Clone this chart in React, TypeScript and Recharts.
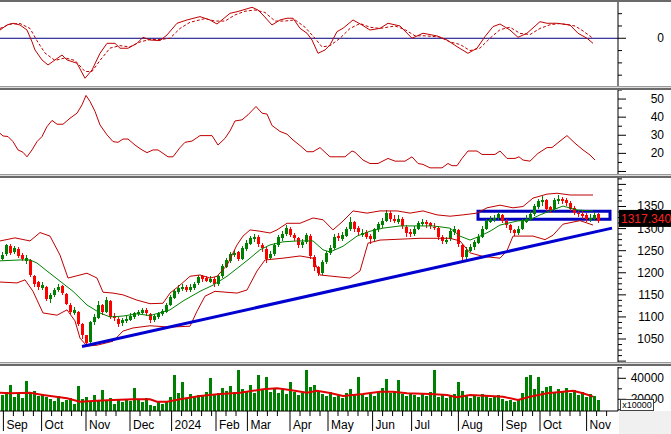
import React from 'react';
import { ComposedChart, Line, Bar, XAxis, YAxis, ReferenceLine, ReferenceArea } from 'recharts';

// one candle every two trading days: [open, high, low, close]
const candles: [number, number, number, number][] = [
  [1232, 1246, 1228, 1240], [1242, 1266, 1238, 1262], [1260, 1264, 1240, 1245], [1246, 1260, 1242, 1255],
  [1254, 1258, 1234, 1238], [1240, 1244, 1226, 1232], [1226, 1240, 1220, 1234], [1230, 1232, 1190, 1195],
  [1192, 1196, 1168, 1175], [1178, 1182, 1160, 1168], [1166, 1180, 1162, 1172], [1168, 1170, 1135, 1140],
  [1140, 1155, 1132, 1150], [1150, 1166, 1145, 1162], [1160, 1174, 1156, 1168], [1170, 1172, 1150, 1155],
  [1152, 1155, 1126, 1130], [1128, 1132, 1106, 1112], [1110, 1122, 1104, 1115], [1112, 1114, 1080, 1085],
  [1084, 1086, 1050, 1060], [1058, 1060, 1035, 1042], [1044, 1090, 1040, 1088], [1088, 1106, 1082, 1100],
  [1098, 1136, 1095, 1128], [1126, 1130, 1105, 1112], [1112, 1145, 1108, 1138], [1136, 1138, 1096, 1100],
  [1102, 1110, 1090, 1098], [1096, 1100, 1078, 1085], [1086, 1098, 1080, 1092], [1090, 1102, 1086, 1095],
  [1094, 1108, 1090, 1102], [1100, 1112, 1096, 1108], [1106, 1116, 1102, 1112], [1110, 1120, 1106, 1115],
  [1116, 1120, 1102, 1108], [1106, 1110, 1086, 1092], [1092, 1106, 1088, 1102], [1100, 1112, 1096, 1108],
  [1106, 1118, 1102, 1114], [1112, 1132, 1108, 1128], [1128, 1150, 1124, 1145], [1144, 1162, 1140, 1158],
  [1156, 1172, 1152, 1165], [1164, 1174, 1158, 1168], [1168, 1172, 1156, 1160], [1160, 1174, 1156, 1168],
  [1166, 1180, 1162, 1175], [1176, 1196, 1172, 1190], [1192, 1196, 1180, 1186], [1188, 1192, 1178, 1182],
  [1180, 1192, 1176, 1186], [1186, 1190, 1168, 1174], [1174, 1196, 1170, 1192], [1192, 1220, 1188, 1215],
  [1214, 1234, 1210, 1228], [1226, 1248, 1222, 1242], [1240, 1252, 1236, 1245], [1246, 1250, 1226, 1232],
  [1232, 1260, 1228, 1255], [1254, 1274, 1250, 1268], [1266, 1284, 1262, 1278], [1276, 1288, 1270, 1282],
  [1282, 1286, 1258, 1265], [1262, 1268, 1248, 1255], [1254, 1258, 1222, 1232], [1234, 1250, 1228, 1242],
  [1242, 1268, 1238, 1262], [1262, 1286, 1258, 1280], [1278, 1294, 1272, 1288], [1288, 1308, 1284, 1302],
  [1300, 1304, 1280, 1285], [1286, 1290, 1272, 1278], [1278, 1282, 1256, 1262], [1262, 1276, 1256, 1270],
  [1270, 1290, 1266, 1285], [1284, 1288, 1232, 1238], [1236, 1240, 1205, 1212], [1212, 1215, 1192, 1200],
  [1200, 1228, 1196, 1225], [1224, 1250, 1220, 1245], [1244, 1262, 1240, 1255], [1256, 1288, 1252, 1282],
  [1284, 1290, 1272, 1278], [1276, 1292, 1272, 1285], [1284, 1304, 1282, 1298], [1298, 1326, 1295, 1315],
  [1314, 1318, 1292, 1300], [1302, 1306, 1285, 1292], [1286, 1298, 1280, 1290], [1292, 1296, 1276, 1282],
  [1284, 1288, 1266, 1276], [1276, 1302, 1272, 1298], [1298, 1316, 1292, 1310], [1308, 1324, 1302, 1318],
  [1318, 1342, 1314, 1335], [1336, 1340, 1316, 1322], [1322, 1330, 1312, 1318], [1316, 1330, 1310, 1322],
  [1322, 1326, 1300, 1305], [1304, 1308, 1282, 1290], [1292, 1298, 1280, 1288], [1288, 1306, 1284, 1300],
  [1300, 1318, 1296, 1312], [1310, 1322, 1305, 1315], [1316, 1320, 1302, 1310], [1312, 1316, 1298, 1306],
  [1304, 1312, 1296, 1302], [1302, 1306, 1274, 1280], [1282, 1286, 1266, 1272], [1270, 1282, 1265, 1275],
  [1276, 1300, 1272, 1295], [1292, 1306, 1286, 1298], [1296, 1300, 1258, 1265], [1262, 1266, 1228, 1235],
  [1236, 1258, 1230, 1252], [1250, 1264, 1246, 1258], [1258, 1275, 1252, 1270], [1268, 1288, 1264, 1282],
  [1282, 1306, 1278, 1300], [1300, 1322, 1296, 1318], [1316, 1328, 1312, 1322], [1320, 1330, 1316, 1325],
  [1324, 1337, 1320, 1332], [1330, 1334, 1312, 1318], [1318, 1322, 1302, 1308], [1308, 1310, 1290, 1296],
  [1296, 1300, 1284, 1290], [1290, 1306, 1286, 1300], [1300, 1322, 1296, 1318], [1316, 1330, 1312, 1322],
  [1322, 1340, 1318, 1332], [1332, 1356, 1328, 1350], [1348, 1368, 1344, 1362], [1360, 1374, 1352, 1365],
  [1364, 1368, 1340, 1345], [1348, 1352, 1336, 1342], [1344, 1370, 1340, 1365], [1362, 1375, 1356, 1368],
  [1368, 1372, 1356, 1362], [1364, 1370, 1350, 1358], [1358, 1362, 1340, 1345], [1346, 1350, 1330, 1335],
  [1336, 1342, 1326, 1332], [1332, 1340, 1322, 1328], [1330, 1336, 1316, 1322], [1320, 1334, 1315, 1325],
  [1322, 1338, 1318, 1330], [1332, 1336, 1312, 1317.34],
];

// volume (x10000), one per candle
const volumes = [
  24000, 27000, 33600, 22000, 25000, 21000, 37400, 26000, 28000, 23000,
  25000, 22000, 20000, 18000, 23000, 17000, 19000, 21000, 16000, 32700,
  20000, 22000, 17000, 24000, 19000, 28900, 18000, 21000, 16000, 19000,
  17000, 20000, 18000, 30700, 19000, 17000, 21000, 15000, 14000, 17000,
  16000, 18000, 22000, 43100, 26000, 36800, 21000, 25000, 22000, 24000,
  23000, 27000, 40300, 24000, 26000, 31000, 28000, 33000, 27000, 47900,
  30000, 28000, 34000, 26000, 43100, 30000, 41500, 27000, 31000, 26000,
  29000, 25000, 36800, 27000, 24000, 26000, 47900, 32000, 34000, 28000,
  25000, 23000, 27000, 22000, 24000, 21000, 26000, 30000, 25000, 41500,
  24000, 22000, 25000, 23000, 27000, 31000, 38900, 26000, 28000, 38000,
  25000, 23000, 26000, 24000, 22000, 25000, 23000, 27000, 47900, 22000,
  24000, 21000, 23000, 25000, 36800, 28000, 23000, 21000, 24000, 22000,
  25000, 23000, 21000, 22000, 24000, 20000, 18000, 19000, 17000, 20000,
  26000, 41500, 43100, 30000, 41500, 28000, 32000, 32700, 27000, 30000,
  28000, 31000, 26000, 29000, 24000, 27000, 22000, 25000, 23000, 19000,
];

// [trading day, value]
const macdLine: [number, number][] = [
  [0, 6.7], [3.5, 10.8], [6.5, 12.2], [10, 10.8], [13.5, 6.7], [16, -2.8], [17.5, -9.5], [21, -17.6],
  [24, -21.7], [27.5, -17.6], [31, -13.6], [33.5, -17.6], [38.5, -20.3], [42.5, -32.5], [46, -25.8],
  [50, -12.2], [53.5, -4.1], [57.5, -4.1], [60, -8.1], [64, -8.1], [68.5, -4.1], [71.5, 0.8], [75, -1.4],
  [80, -1.9], [83.5, 2.7], [88.5, 12.2], [93.5, 14.9], [100, 17.6], [105, 14.9], [108.5, 11.6], [115, 20.3],
  [118.5, 21.6], [121.5, 23], [126, 25.2], [129, 23], [131.5, 18.9], [136, 10.8], [140, 14.9], [143.5, 16.3],
  [146.5, 16.3], [150, 8.1], [153.5, 4.1], [156, -1.4], [159, -12.2], [162.5, -9.5], [165, -5.4], [168.5, 5.4],
  [171.5, 8.1], [176.5, 14.9], [181, 10.8], [185, 6.7], [190, 8.1], [194, 12.2], [200, 10], [206, 0],
  [211.5, 4.1], [218.5, 1.9], [223.5, -1.4], [228.5, -6.8], [234, -12.2], [238.5, -8.1], [242.5, 1.4],
  [246.5, 9.5], [250, 11.6], [255, 6.7], [259, 0.8], [263.5, 4.1], [270, 13.5], [273.5, 12.2], [278.5, 12.2],
  [285, 10.8], [289, 4.1], [293.5, 0], [296.5, -4.1],
];
const macdSignal: [number, number][] = [
  [0, 8], [5, 11.5], [10, 12], [15, 8], [18.5, -2], [22.5, -12], [27.5, -18], [32.5, -16], [37.5, -18],
  [42.5, -27], [46, -27], [50, -18], [55, -8], [60, -6], [65, -7], [70, -3], [75, -1], [80, -1], [85, 0],
  [90, 8], [95, 13], [102.5, 16], [107.5, 14], [112.5, 14], [117.5, 19], [122.5, 22], [127.5, 23], [132.5, 21],
  [137.5, 14], [142.5, 14], [147.5, 15], [152.5, 9], [157.5, 0], [161, -7], [165, -6], [170, 0], [175, 8],
  [180, 12], [185, 9], [190, 8], [197.5, 10], [202.5, 7], [207.5, 2], [212.5, 2], [220, 1], [225, -3],
  [230, -5], [235, -10], [240, -8], [245, 0], [250, 7], [255, 9], [260, 4], [265, 3], [270, 8], [275, 11],
  [280, 12], [287.5, 10], [291.5, 6], [296.5, 0],
];
const adxLine: [number, number][] = [
  [0, 31.1], [1.5, 29.6], [4, 29.3], [6.5, 26.5], [9, 21.9], [11.5, 20.6], [13.5, 18.1], [16, 21.9],
  [18.5, 26.5], [21, 29.3], [23.5, 34.8], [26, 38.2], [28.5, 36.1], [31.5, 36.1], [35, 39.4], [38.5, 42.2],
  [41, 46.8], [43, 52], [45, 48.7], [47.5, 43.2], [50, 35.7], [53.5, 30.2], [56.5, 26.5], [59, 26.1],
  [61.5, 27.9], [64, 27.9], [67.5, 24.6], [71, 21.9], [73.5, 20.4], [76.5, 21.9], [79, 21.9], [81.5, 20],
  [84, 18.1], [86.5, 18.1], [90, 23.2], [92.5, 26.1], [96, 26.8], [100, 29.8], [106, 29.8], [109, 24.6],
  [112.5, 28.3], [115, 32.4], [117.5, 37.9], [121, 38.5], [124, 41.3], [128, 45.9], [131, 42.2], [133.5, 41.7],
  [136, 35.4], [140, 32.1], [143.5, 30.6], [146.5, 27.4], [150, 24.3], [153.5, 20.9], [156.5, 20.9], [160, 23.2],
  [162.5, 20.6], [165, 18.1], [172.5, 18.1], [176, 21.3], [177.5, 20.6], [181.5, 16.3], [185, 14.4], [189, 14.4],
  [194, 17.2], [197.5, 15.7], [202.5, 15.7], [206, 18.1], [209, 14.4], [211.5, 13.9], [215, 12], [221, 12],
  [224, 14.4], [226, 13.2], [228.5, 13.2], [231, 17.2], [234, 21.3], [238.5, 21.3], [241, 19.4], [247.5, 19.4],
  [250, 21.3], [253.5, 17.2], [257.5, 17.2], [259.5, 18.1], [261.5, 16.3], [265, 15.7], [269, 20], [273.5, 23.2],
  [276, 23.2], [280, 26.8], [283.5, 29.8], [287.5, 25.6], [291.5, 21.9], [295, 19.1], [297.5, 16.3],
];
const bandUpper: [number, number][] = [
  [0, 1272], [7.5, 1279], [15, 1272], [20, 1291], [25, 1283], [30, 1240], [34, 1188], [40, 1195],
  [43.5, 1199], [48.5, 1188], [51.5, 1156], [56.5, 1154], [61.5, 1150], [68.5, 1138], [75, 1130], [81.5, 1131],
  [85, 1154], [90, 1172], [95, 1192], [100, 1195], [105, 1188], [108.5, 1192], [113.5, 1217], [118.5, 1263],
  [121.5, 1283], [125, 1297], [130, 1294], [135, 1290], [138.5, 1297], [143.5, 1312], [150, 1312], [156.5, 1324],
  [161.5, 1320], [166.5, 1297], [171.5, 1317], [176.5, 1340], [183.5, 1335], [190, 1340], [198.5, 1340],
  [205, 1335], [211.5, 1340], [218.5, 1331], [225, 1328], [231.5, 1331], [238.5, 1335], [243.5, 1347],
  [250, 1353], [256.5, 1347], [261.5, 1350], [266.5, 1369], [273.5, 1378], [278.5, 1380], [285, 1376], [296.5, 1376],
];
const bandMid: [number, number][] = [
  [0, 1227], [10, 1229], [15, 1229], [18.5, 1222], [23.5, 1204], [30, 1181], [36.5, 1158], [43.5, 1127],
  [50, 1109], [55, 1100], [61.5, 1102], [68.5, 1107], [75, 1103], [85, 1116], [91.5, 1136], [100, 1158],
  [106.5, 1172], [113.5, 1192], [120, 1215], [125, 1233], [130, 1252], [135, 1263], [141.5, 1270], [148.5, 1272],
  [156.5, 1272], [161.5, 1252], [165, 1247], [171.5, 1260], [178.5, 1283], [185, 1294], [191.5, 1301],
  [200, 1306], [208.5, 1306], [216.5, 1306], [225, 1301], [230, 1283], [235, 1274], [240, 1283], [245, 1294],
  [250, 1308], [258.5, 1317], [265, 1320], [270, 1331], [275, 1340], [281.5, 1351], [288.5, 1342], [296.5, 1340],
];
const bandLower: [number, number][] = [
  [0, 1179], [8.5, 1177], [12.5, 1184], [16.5, 1158], [21.5, 1109], [28.5, 1104], [33.5, 1116], [37.5, 1091],
  [40, 1052], [43.5, 1034], [48.5, 1036], [56.5, 1045], [61.5, 1068], [66.5, 1075], [75, 1080], [85, 1077],
  [95, 1079], [98.5, 1113], [102.5, 1147], [107.5, 1158], [118.5, 1154], [123.5, 1161], [128.5, 1204],
  [132.5, 1229], [141.5, 1233], [150, 1238], [156.5, 1233], [160, 1195], [175, 1188], [180, 1204], [184, 1267],
  [190, 1274], [210, 1278], [225, 1278], [230, 1272], [235, 1245], [241.5, 1237], [250, 1233], [253.5, 1250],
  [256.5, 1283], [266.5, 1283], [272.5, 1275], [276.5, 1285], [281.5, 1310], [290, 1318], [296.5, 1308],
];
const volumeAvg: [number, number][] = [
  [0, 26300], [5, 25700], [15, 26300], [21.5, 24100], [33.5, 21000], [40, 17700], [48.5, 18700], [56.5, 19300],
  [66.5, 20000], [75, 20000], [78.5, 17700], [83.5, 17700], [90, 20000], [100, 23100], [110, 25000], [120, 26300],
  [131.5, 29500], [138.5, 30500], [145, 28900], [153.5, 26300], [158.5, 28200], [165, 26000], [171.5, 23100],
  [181.5, 25000], [190, 27200], [196.5, 27200], [203.5, 25700], [215, 25000], [223.5, 24100], [228.5, 21900],
  [235, 24100], [245, 23100], [251.5, 22500], [259, 19300], [265, 22500], [273.5, 25700], [281.5, 27200],
  [286.5, 28200], [291.5, 25700], [296.5, 22500],
];
const supportLine: [number, number][] = [[41, 1033], [306, 1301]];
const zoneDays = [239, 305];
const zonePrices = [1321, 1339];
const lastClose = 1317.34;

const monthLabels = ['Sep', 'Oct', 'Nov', 'Dec', '2024', 'Feb', 'Mar', 'Apr', 'May', 'Jun', 'Jul', 'Aug', 'Sep', 'Oct', 'Nov'];
const monthStarts = [1.7, 20.8, 43, 65, 85.8, 108, 123.7, 145, 164, 186.3, 205.8, 229.2, 251.3, 270, 293.3];

const DAYS: [number, number] = [0, 309];
const AXIS_W = 53;
const FONT = "'Liberation Sans', Arial, sans-serif";

const pts = (pairs: [number, number][]) => pairs.map(([d, v]) => ({ d, v }));
const rows = candles.map(([o, h, l, c], k) => ({ d: 2 * k + 1, o, h, l, c, vol: volumes[k] }));

const weekTicks: number[] = [];
monthStarts.forEach((m, i) => {
  const next = i + 1 < monthStarts.length ? monthStarts[i + 1] : DAYS[1];
  for (let t = m + 5; t < next - 2; t += 5) weekTicks.push(t);
});

const range = (from: number, to: number, step: number) => {
  const out: number[] = [];
  for (let v = from; v <= to + 1e-9; v += step) out.push(Math.round(v * 10) / 10);
  return out;
};

const priceMajors = range(1000, 1400, 50);
const priceTicks = [...range(1000, 1412.5, 12.5), lastClose];

function axisTick(majors: number[], labels: Record<string, string>) {
  return (p: any) => {
    const { x, y, payload } = p;
    const v = payload.value;
    if (v === lastClose) {
      return (
        <g>
          <rect x={x + 1} y={y - 11} width={53} height={17} fill="#000" />
          <text x={x + 3} y={y + 2} fontSize={12} fontFamily={FONT} fill="#ff2020">{lastClose.toFixed(3)}</text>
        </g>
      );
    }
    const major = majors.includes(v);
    return (
      <g>
        <line x1={x} x2={x + (major ? 8 : 4)} y1={y} y2={y} stroke="#000" />
        {labels[String(v)] && (
          <text x={x + 46} y={y + 4} textAnchor="end" fontSize={12} fontFamily={FONT} fill="#000">
            {labels[String(v)]}
          </text>
        )}
      </g>
    );
  };
}

const DateTick = (p: any) => {
  const { x, y, payload } = p;
  const i = monthStarts.indexOf(payload.value);
  if (i < 0) return <line x1={x} x2={x} y1={y} y2={y + 5} stroke="#000" />;
  return (
    <g>
      <line x1={x} x2={x} y1={y} y2={y + 20} stroke="#000" />
      <text x={x + 3} y={y + 17.5} fontSize={12} fontFamily={FONT} fill="#000">{monthLabels[i]}</text>
    </g>
  );
};

const Candle = (p: any) => {
  const { x, y, width, height, payload } = p;
  const { o, h, l, c } = payload;
  const top = Math.min(y, y + height);
  const bot = Math.max(y, y + height);
  const py = (v: number) => top + ((h - v) / (h - l)) * (bot - top);
  const cx = Math.round(x + width / 2);
  const color = c >= o ? '#008000' : '#ff0000';
  const b1 = py(Math.max(o, c));
  const b2 = py(Math.min(o, c));
  return (
    <g shapeRendering="crispEdges">
      <line x1={cx + 0.5} x2={cx + 0.5} y1={top} y2={bot} stroke={color} />
      <rect x={cx - 1} y={b1} width={3} height={Math.max(1, b2 - b1)} fill={color} />
    </g>
  );
};

const VolBar = (p: any) => {
  const { x, y, width, height } = p;
  const cx = Math.round(x + width / 2);
  const top = Math.min(y, y + height);
  return <rect x={cx - 1} y={top} width={3} height={Math.abs(height)} fill="#008000" shapeRendering="crispEdges" />;
};

const yAxisProps = {
  orientation: 'right' as const,
  width: AXIS_W,
  allowDataOverflow: true,
  interval: 0 as const,
  tickSize: 0,
  tickMargin: 0,
  tickLine: false,
  axisLine: { stroke: '#000' },
};

const Sep = ({ top }: { top: number }) => (
  <>
    <div style={{ position: 'absolute', left: 0, top, width: 671, height: 1, background: '#9a9a9a' }} />
    <div style={{ position: 'absolute', left: 0, top: top + 1, width: 671, height: 1, background: '#dcdcdc' }} />
    <div style={{ position: 'absolute', left: 0, top: top + 2, width: 671, height: 2, background: '#6a6a6a' }} />
  </>
);

const box = (top: number): React.CSSProperties => ({ position: 'absolute', left: 0, top });

export default function App() {
  return (
    <div style={{ position: 'absolute', left: 0, top: 0, width: 671, height: 434, background: '#fff', fontFamily: FONT, overflow: 'hidden' }}>
      {/* MACD */}
      <div style={box(2)}>
        <ComposedChart width={671} height={84} margin={{ top: 0, right: 0, bottom: 0, left: 0 }}>
          <XAxis type="number" dataKey="d" domain={DAYS} allowDataOverflow hide />
          <YAxis {...yAxisProps} domain={[-38.8, 29.5]} ticks={[-30, -20, -10, 0, 10, 20]} tick={axisTick([0], { '0': '0' })} />
          <ReferenceLine y={0} stroke="#000080" strokeWidth={1} />
          <Line data={pts(macdSignal)} dataKey="v" stroke="#c00000" strokeWidth={1} strokeDasharray="3 2" dot={false} isAnimationActive={false} />
          <Line data={pts(macdLine)} dataKey="v" stroke="#c00000" strokeWidth={1} dot={false} isAnimationActive={false} />
        </ComposedChart>
      </div>

      {/* ADX */}
      <div style={box(90)}>
        <ComposedChart width={671} height={84} margin={{ top: 0, right: 0, bottom: 0, left: 0 }}>
          <XAxis type="number" dataKey="d" domain={DAYS} allowDataOverflow hide />
          <YAxis
            {...yAxisProps}
            domain={[8.6, 55]}
            ticks={[10, 15, 20, 25, 30, 35, 40, 45, 50, 55]}
            tick={axisTick([10, 20, 30, 40, 50], { '20': '20', '30': '30', '40': '40', '50': '50' })}
          />
          <Line data={pts(adxLine)} dataKey="v" stroke="#c00000" strokeWidth={1} dot={false} isAnimationActive={false} />
        </ComposedChart>
      </div>

      {/* price */}
      <div style={box(178)}>
        <ComposedChart width={671} height={184} data={rows} margin={{ top: 0, right: 0, bottom: 0, left: 0 }}>
          <XAxis type="number" dataKey="d" domain={DAYS} allowDataOverflow hide />
          <YAxis
            {...yAxisProps}
            domain={[998, 1414.5]}
            ticks={priceTicks}
            tick={axisTick(priceMajors, { '1050': '1050', '1100': '1100', '1150': '1150', '1200': '1200', '1250': '1250', '1300': '1300', '1350': '1350' })}
          />
          <Line data={pts(bandUpper)} dataKey="v" stroke="#c00000" strokeWidth={1} dot={false} isAnimationActive={false} />
          <Line data={pts(bandLower)} dataKey="v" stroke="#c00000" strokeWidth={1} dot={false} isAnimationActive={false} />
          <Line data={pts(bandMid)} dataKey="v" stroke="#008000" strokeWidth={1} dot={false} isAnimationActive={false} />
          <Bar dataKey={(r: any) => [r.l, r.h]} barSize={3} shape={<Candle />} isAnimationActive={false} />
          <Line data={pts(supportLine)} dataKey="v" stroke="#0000d0" strokeWidth={3} dot={false} isAnimationActive={false} />
          <ReferenceArea x1={zoneDays[0]} x2={zoneDays[1]} y1={zonePrices[0]} y2={zonePrices[1]} fill="none" fillOpacity={0} stroke="#0000c0" strokeWidth={3} ifOverflow="visible" />
        </ComposedChart>
      </div>

      {/* volume + date axis */}
      <div style={box(367)}>
        <ComposedChart width={671} height={67} data={rows} margin={{ top: 0, right: 0, bottom: 0, left: 0 }}>
          <XAxis
            type="number"
            dataKey="d"
            domain={DAYS}
            allowDataOverflow
            height={23}
            ticks={[...monthStarts, ...weekTicks]}
            interval={0}
            tickSize={0}
            tickMargin={0}
            tickLine={false}
            axisLine={{ stroke: '#000' }}
            tick={DateTick}
          />
          <YAxis
            {...yAxisProps}
            domain={[8860, 50760]}
            ticks={[10000, 20000, 30000, 40000, 50000]}
            tick={axisTick([20000, 40000], { '20000': '20000', '40000': '40000' })}
          />
          <Bar dataKey="vol" barSize={3} fill="#008000" shape={<VolBar />} isAnimationActive={false} />
          <Line data={pts(volumeAvg)} dataKey="v" stroke="#e00000" strokeWidth={2} dot={false} isAnimationActive={false} />
        </ComposedChart>
      </div>

      <div style={{ position: 'absolute', left: 619, top: 411, width: 52, height: 23, background: '#f0f0f0' }} />
      <div style={{ position: 'absolute', left: 620, top: 399, width: 32, height: 10, border: '1px solid #404040', background: '#fff', fontSize: 9, lineHeight: '10px', textAlign: 'center', color: '#000' }}>
        x10000
      </div>

      <div style={{ position: 'absolute', left: 0, top: 0, width: 671, height: 2, background: '#6a6a6a' }} />
      <Sep top={86} />
      <Sep top={174} />
      <Sep top={362} />
    </div>
  );
}
